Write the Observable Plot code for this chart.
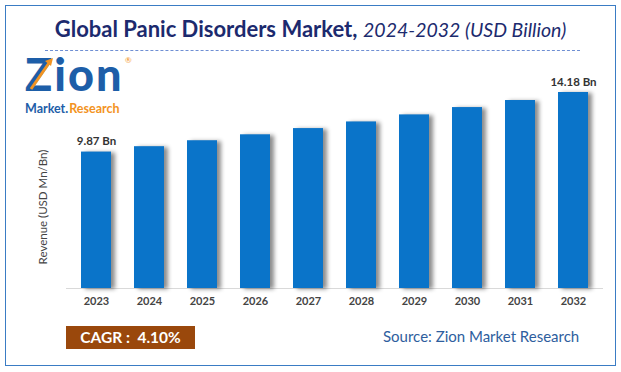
<!DOCTYPE html>
<html>
<head>
<meta charset="utf-8">
<script src="https://cdn.jsdelivr.net/npm/d3@7"></script>
<script src="https://cdn.jsdelivr.net/npm/@observablehq/plot@0.6"></script>
<style>
  html, body { margin: 0; padding: 0; background: #fff; }
  #wrap { position: relative; width: 621px; height: 372px; overflow: hidden; font-family: Lato, "Open Sans", sans-serif; }
  #border { position: absolute; left: 5px; top: 5px; width: 609px; height: 359px; border: 1.5px solid #3a7cc4; }
  #title { position: absolute; left: 0; width: 621px; top: 16px; height: 25px; line-height: 25px; text-align: center; font-size: 22px; color: #1c2a6e; white-space: nowrap; }
  #title b { font-weight: 700; }
  #title i { font-weight: 400; font-style: italic; font-size: 19.5px; }
  #dash { position: absolute; left: 45px; top: 50px; width: 535px; border-top: 1px dashed #6f8fd3; }
  #logo { position: absolute; left: 25px; top: 53px; width: 100px; height: 62px; }
  #zion { position: absolute; left: 0; top: 0; font-size: 45px; font-weight: 900; color: #1d5ea8; line-height: 42px; letter-spacing: 2px; white-space: nowrap; }
  #mr { position: absolute; left: 0; top: 49px; font-size: 12.5px; font-weight: 700; line-height: 13px; white-space: nowrap; }
  #mr .m { color: #1d5ea8; } #mr .r { color: #f39322; margin-left: 1px; }
  #reg { position: absolute; left: 100px; top: 3px; font-size: 8px; line-height: 8px; color: #f39322; }
  #ylab { position: absolute; left: -32px; top: 200px; width: 150px; text-align: center; font-size: 11.5px; color: #444; transform: rotate(-90deg); transform-origin: 75px 7px; line-height: 14px; }
  #plot { position: absolute; left: 0; top: 70px; }
  #cagr { position: absolute; left: 66px; top: 326px; width: 129px; height: 23px; line-height: 23px; background: #9a480c; color: #fff; font-weight: 700; font-size: 15.5px; text-align: center; white-space: pre; }
  #source { position: absolute; left: 383px; top: 327px; font-size: 15px; color: #2e5e9e; line-height: 18px; white-space: nowrap; }
</style>
</head>
<body>
<div id="wrap">
  <div id="border"></div>
  <div id="title"><b>Global Panic Disorders Market,</b> <i>2024-2032 (USD Billion)</i></div>
  <div id="dash"></div>
  <div id="logo">
    <div id="zion">Zion</div>
    <div id="mr"><span class="m">Market.</span><span class="r">Research</span></div>
    <div id="reg">®</div>
    <svg style="position:absolute;left:0;top:0" width="40" height="44"><line x1="6" y1="36" x2="24" y2="10" stroke="#f39322" stroke-width="3"/><path d="M20,8 L28,5 L26,13 Z" fill="#f39322"/></svg>
  </div>
  <div id="ylab">Revenue (USD Mn/Bn)</div>
  <div id="plot"></div>
  <div id="cagr">CAGR :  4.10%</div>
  <div id="source">Source: Zion Market Research</div>
</div>
<script>
const years = ["2023","2024","2025","2026","2027","2028","2029","2030","2031","2032"];
const values = [9.87, 10.26, 10.69, 11.12, 11.57, 12.05, 12.56, 13.09, 13.60, 14.18];
const labelYears = ["2023", "2032"];

const data = years.map((year, i) => ({year, value: values[i]}));
const labelled = data.filter(d => labelYears.includes(d.year));

const chart = Plot.plot({
  width: 621,
  height: 250,
  marginTop: 22,
  marginBottom: 32,
  marginLeft: 66,
  marginRight: 18,
  style: {fontFamily: "Lato, 'Open Sans', sans-serif", background: "transparent"},
  x: {domain: years, paddingInner: 0.436, paddingOuter: 0.265, label: null},
  y: {domain: [0, d3.max(values)], axis: null},
  marks: [
    Plot.ruleY([0], {stroke: "#d9d9d9"}),
    Plot.barY(data, {x: "year", y: "value", fill: "#0a74c9"}),
    Plot.text(labelled, {x: "year", y: "value", text: d => d.value.toFixed(2) + " Bn", dy: -7, lineAnchor: "bottom", fontSize: 11.5, fontWeight: "bold", fill: "#333"}),
    Plot.axisX({tickSize: 0, tickPadding: 9, fontSize: 11, fontWeight: "bold", fill: "#444", label: null})
  ]
});
d3.select(chart).selectAll("g[aria-label=bar] rect").style("filter", "drop-shadow(4px 1px 2px rgba(0,0,0,0.45))");
document.getElementById("plot").appendChild(chart);
</script>
</body>
</html>
